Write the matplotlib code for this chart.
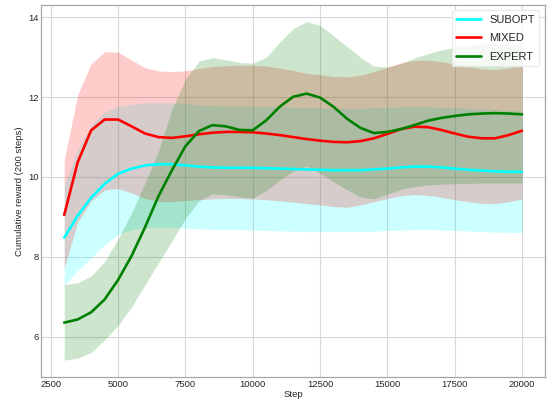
import numpy as np
import matplotlib
matplotlib.use("Agg")
from matplotlib import pyplot as plt

steps = np.arange(3000, 20001, 500)

subopt_mean = [8.48, 9.03, 9.48, 9.83, 10.08, 10.21, 10.29, 10.32, 10.32, 10.29, 10.26, 10.24,
               10.23, 10.23, 10.23, 10.22, 10.21, 10.20, 10.19, 10.18, 10.17, 10.17, 10.17, 10.19,
               10.21, 10.24, 10.26, 10.26, 10.24, 10.21, 10.18, 10.16, 10.14, 10.13, 10.13]
subopt_upper = [9.80, 10.70, 11.30, 11.62, 11.76, 11.83, 11.86, 11.87, 11.86, 11.84, 11.80, 11.79,
                11.78, 11.78, 11.77, 11.76, 11.76, 11.75, 11.74, 11.73, 11.72, 11.72, 11.72, 11.73,
                11.75, 11.76, 11.76, 11.76, 11.75, 11.73, 11.72, 11.70, 11.69, 11.67, 11.66]
subopt_lower = [7.29, 7.65, 7.97, 8.31, 8.56, 8.68, 8.73, 8.74, 8.73, 8.72, 8.70, 8.69,
                8.68, 8.68, 8.67, 8.66, 8.65, 8.64, 8.63, 8.63, 8.63, 8.63, 8.63, 8.64,
                8.66, 8.67, 8.68, 8.68, 8.67, 8.66, 8.65, 8.63, 8.62, 8.61, 8.61]

mixed_mean = [9.05, 10.37, 11.17, 11.44, 11.44, 11.27, 11.09, 11.00, 10.98, 11.02, 11.07, 11.11,
              11.13, 11.13, 11.12, 11.09, 11.05, 11.00, 10.95, 10.91, 10.88, 10.87, 10.90, 10.97,
              11.08, 11.20, 11.26, 11.25, 11.18, 11.09, 11.01, 10.97, 10.97, 11.05, 11.16]
mixed_upper = [10.43, 12.06, 12.84, 13.14, 13.13, 12.93, 12.74, 12.66, 12.64, 12.66, 12.72, 12.77,
               12.79, 12.80, 12.80, 12.78, 12.73, 12.67, 12.60, 12.56, 12.52, 12.51, 12.55, 12.64,
               12.75, 12.86, 12.92, 12.93, 12.89, 12.83, 12.77, 12.71, 12.69, 12.73, 12.82]
mixed_lower = [7.71, 8.87, 9.40, 9.67, 9.71, 9.60, 9.46, 9.39, 9.38, 9.41, 9.43, 9.45,
               9.46, 9.46, 9.45, 9.43, 9.40, 9.37, 9.33, 9.30, 9.26, 9.24, 9.30, 9.38,
               9.46, 9.53, 9.56, 9.54, 9.49, 9.43, 9.38, 9.34, 9.33, 9.38, 9.45]

expert_mean = [6.35, 6.43, 6.61, 6.93, 7.42, 8.02, 8.74, 9.52, 10.17, 10.77, 11.15, 11.30,
               11.27, 11.18, 11.17, 11.42, 11.76, 12.01, 12.09, 11.99, 11.76, 11.46, 11.23, 11.10,
               11.13, 11.20, 11.30, 11.41, 11.48, 11.53, 11.57, 11.59, 11.60, 11.59, 11.57]
expert_upper = [7.30, 7.35, 7.52, 7.88, 8.45, 9.10, 9.85, 10.65, 11.70, 12.45, 12.90, 12.99,
                12.94, 12.87, 12.85, 13.00, 13.38, 13.72, 13.89, 13.80, 13.54, 13.27, 13.00, 12.78,
                12.76, 12.84, 12.98, 13.09, 13.18, 13.25, 13.30, 13.33, 13.35, 13.34, 13.32]
expert_lower = [5.41, 5.46, 5.60, 5.92, 6.28, 6.74, 7.30, 7.85, 8.40, 8.96, 9.40, 9.58,
                9.55, 9.50, 9.47, 9.66, 9.92, 10.15, 10.27, 10.10, 9.88, 9.68, 9.50, 9.45,
                9.57, 9.69, 9.76, 9.80, 9.82, 9.83, 9.84, 9.85, 9.85, 9.85, 9.85]

labels = ["SUBOPT", "MIXED", "EXPERT"]
colors = ["cyan", "red", "green"]

plt.style.use("seaborn-v0_8-whitegrid")
fig = plt.figure(figsize=(5.51, 4.05), dpi=100)
ax = fig.add_axes([0.075, 0.069, 0.914, 0.919])

series = [(subopt_mean, subopt_lower, subopt_upper),
          (mixed_mean, mixed_lower, mixed_upper),
          (expert_mean, expert_lower, expert_upper)]

for (m, lo, hi), c in zip(series, colors):
    ax.fill_between(steps, lo, hi, color=c, alpha=0.2, linewidth=0)
for (m, lo, hi), c, lab in zip(series, colors, labels):
    ax.plot(steps, m, color=c, linewidth=1.9, label=lab)

ax.set_xlabel("Step", fontsize=6.8, labelpad=1)
ax.set_ylabel("Cumulative reward (200 steps)", fontsize=6.8, labelpad=3)
ax.tick_params(labelsize=6.8, pad=2)
ax.set_xticks([2500, 5000, 7500, 10000, 12500, 15000, 17500, 20000])
ax.set_yticks([6, 8, 10, 12, 14])
ax.grid(True, color="0.85", linewidth=0.8)
for s in ax.spines.values():
    s.set_visible(True)
    s.set_color("0.65")
    s.set_linewidth(0.9)

leg = ax.legend(loc="upper right", fontsize=8, frameon=True, handlelength=2.2,
                labelspacing=0.75, borderaxespad=0.5)
leg.get_frame().set_edgecolor("0.9")

fig.savefig("out.png", dpi=100)
